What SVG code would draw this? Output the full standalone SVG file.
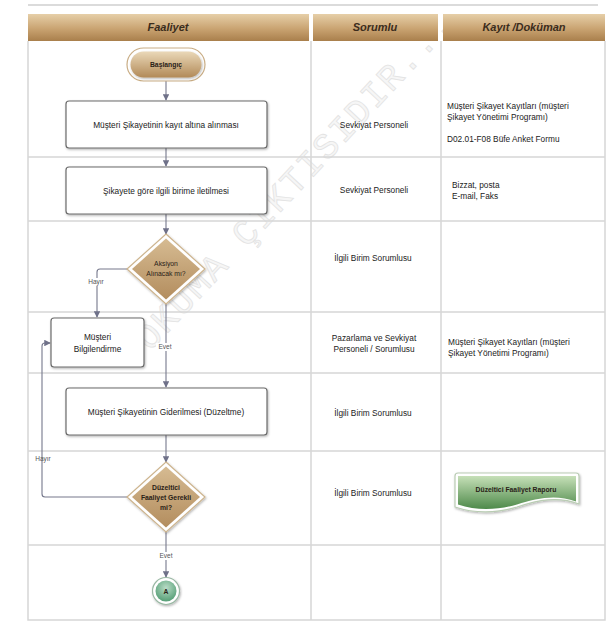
<svg xmlns="http://www.w3.org/2000/svg" width="613" height="623" viewBox="0 0 613 623">
<defs>
<linearGradient id="hdr" x1="0" y1="0" x2="0" y2="1">
<stop offset="0" stop-color="#e6cfa8"/><stop offset="0.55" stop-color="#c9a371"/><stop offset="1" stop-color="#a97f4c"/>
</linearGradient>
<linearGradient id="tan" x1="0" y1="0" x2="0" y2="1">
<stop offset="0" stop-color="#ead8b8"/><stop offset="1" stop-color="#b28a58"/>
</linearGradient>
<linearGradient id="dia" x1="0" y1="0" x2="0" y2="1">
<stop offset="0" stop-color="#d6bb92"/><stop offset="1" stop-color="#b38d5e"/>
</linearGradient>
<linearGradient id="grn" x1="0" y1="0" x2="0" y2="1">
<stop offset="0" stop-color="#c6e0b8"/><stop offset="1" stop-color="#4e8a4a"/>
</linearGradient>
<radialGradient id="grc" cx="0.5" cy="0.35" r="0.7">
<stop offset="0" stop-color="#b9dcc6"/><stop offset="1" stop-color="#4e9a70"/>
</radialGradient>
<marker id="arr" viewBox="0 0 8 8" refX="7" refY="4" markerWidth="6" markerHeight="6" orient="auto">
<path d="M0,0 L8,4 L0,8 Z" fill="#6f7189"/>
</marker>
<filter id="sh" x="-10%" y="-10%" width="130%" height="140%">
<feDropShadow dx="0.8" dy="1.2" stdDeviation="0.8" flood-color="#000" flood-opacity="0.3"/>
</filter>
</defs>
<style>
.grid{stroke:#d6d6d6;stroke-width:1.5;fill:none}
.hd{font-family:"Liberation Sans",Arial,sans-serif;font-style:italic;font-weight:bold;font-size:11px;fill:#3b2c1c;text-anchor:middle}
.t{font-family:"Liberation Sans",Arial,sans-serif;font-size:8.3px;fill:#222}
.c{text-anchor:middle}
.box{fill:#fff;stroke:#6b6b6b;stroke-width:1.2}
.conn{stroke:#76788c;stroke-width:1.1;fill:none}
.lbl{font-family:"Liberation Sans",Arial,sans-serif;font-size:6.5px;fill:#555;text-anchor:middle}
.sm{font-family:"Liberation Sans",Arial,sans-serif;font-size:6.8px;fill:#2a2218;text-anchor:middle;font-weight:bold}
.nw{font-weight:normal}
.wm{font-family:"Liberation Mono","Courier New",monospace;font-size:36px;fill:#f6f6f6;stroke:#e3e3e3;stroke-width:0.8}
</style>
<rect width="613" height="623" fill="#fff"/>

<g id="watermark">
<text class="wm" x="0" y="0" transform="translate(150,352) rotate(-47)" letter-spacing="2">OKUMA ÇIKTISIDIR...</text>
</g>

<g id="table">
<line x1="28" y1="5" x2="598" y2="5" stroke="#cfcfcf" stroke-width="1.5"/>
<rect x="28" y="14" width="281" height="27" fill="url(#hdr)"/>
<rect x="313" y="14" width="125" height="27" fill="url(#hdr)"/>
<rect x="443" y="14" width="162" height="27" fill="url(#hdr)"/>
<text class="hd" x="168" y="31">Faaliyet</text>
<text class="hd" x="375" y="31">Sorumlu</text>
<text class="hd" x="524" y="31">Kayıt /Doküman</text>
<path class="grid" d="M28,41 V620 H605 V41 M311,41 V620 M441,41 V620"/>
<path class="grid" d="M28,157 H605 M28,221 H605 M28,312 H605 M28,373 H605 M28,451 H605 M28,545 H605"/>
</g>

<g id="connectors">
<line class="conn" x1="166" y1="81" x2="166" y2="100" marker-end="url(#arr)"/>
<line class="conn" x1="166" y1="148" x2="166" y2="166" marker-end="url(#arr)"/>
<line class="conn" x1="166" y1="214" x2="166" y2="234" marker-end="url(#arr)"/>
<line class="conn" x1="166" y1="303" x2="166" y2="387" marker-end="url(#arr)"/>
<path class="conn" d="M129,269 H100 Q97,269 97,272 V317" marker-end="url(#arr)"/>
<line class="conn" x1="166" y1="435" x2="166" y2="462" marker-end="url(#arr)"/>
<path class="conn" d="M129,497 H45 Q42,497 42,494 V346 Q42,343 45,343 H50" marker-end="url(#arr)"/>
<line class="conn" x1="166" y1="531" x2="166" y2="577" marker-end="url(#arr)"/>
<rect x="87" y="278" width="18" height="8" fill="#fff"/>
<text class="lbl" x="96" y="284">Hayır</text>
<rect x="156" y="343" width="18" height="8" fill="#fff"/>
<text class="lbl" x="165" y="349">Evet</text>
<text class="lbl" x="43" y="461">Hayır</text>
<rect x="157" y="552" width="18" height="8" fill="#fff"/>
<text class="lbl" x="166" y="558">Evet</text>
</g>

<g id="start">
<rect x="127" y="48" width="78" height="33" rx="16.5" fill="#fff" stroke="#c9ad85" stroke-width="1.2"/>
<rect x="130.5" y="51.5" width="71" height="26" rx="13" fill="url(#tan)" filter="url(#sh)"/>
<text class="sm" x="166" y="67">Başlangıç</text>
</g>

<g id="n1">
<rect class="box" x="66" y="101" width="201" height="47" rx="3" filter="url(#sh)"/>
<text class="t c" x="166" y="128">Müşteri Şikayetinin kayıt altına alınması</text>
</g>
<g id="n2">
<rect class="box" x="66" y="167" width="201" height="47" rx="3" filter="url(#sh)"/>
<text class="t c" x="166" y="194">Şikayete göre ilgili birime iletilmesi</text>
</g>
<g id="d1">
<polygon points="166,234 205,269 166,304 127,269" fill="#fff" stroke="#cdb48e" stroke-width="1.2" filter="url(#sh)"/>
<polygon points="166,238.5 200,269 166,299.5 132,269" fill="url(#dia)"/>
<text class="sm nw" x="166" y="266">Aksiyon</text>
<text class="sm nw" x="166" y="276">Alınacak mı?</text>
</g>
<g id="n3">
<rect class="box" x="51" y="318" width="93" height="49" rx="3" filter="url(#sh)"/>
<text class="t c" x="97.5" y="340" font-size="9">Müşteri</text>
<text class="t c" x="97.5" y="352" font-size="9">Bilgilendirme</text>
</g>
<g id="n4">
<rect class="box" x="66" y="388" width="201" height="47" rx="3" filter="url(#sh)"/>
<text class="t c" x="166" y="415" font-size="8.8">Müşteri Şikayetinin Giderilmesi (Düzeltme)</text>
</g>
<g id="d2">
<polygon points="166,462 205,497 166,532 127,497" fill="#fff" stroke="#cdb48e" stroke-width="1.2" filter="url(#sh)"/>
<polygon points="166,466.5 200,497 166,527.5 132,497" fill="url(#dia)"/>
<text class="sm" x="166" y="490">Düzeltici</text>
<text class="sm" x="166" y="500">Faaliyet Gerekli</text>
<text class="sm" x="166" y="510">mi?</text>
</g>
<g id="end">
<circle cx="166" cy="591" r="13.5" fill="#fff" stroke="#9ab8a4" stroke-width="1.2" filter="url(#sh)"/>
<circle cx="166" cy="591" r="10.5" fill="url(#grc)"/>
<text class="sm" x="166" y="594" font-size="8">A</text>
</g>

<g id="doc">
<path d="M455,476 Q455,473 458,473 L576,473 Q579,473 579,476 L579,504 C558,496 538,500 517,507 C497,513 476,514 455,507 Z" fill="#fff" stroke="#b9ccb3" stroke-width="1.2" filter="url(#sh)"/>
<path d="M458,476 L576,476 L576,501.5 C556,494 537,498 517,504.5 C498,510 477,511 458,504.5 Z" fill="url(#grn)"/>
<text class="sm" x="516" y="492" font-size="7.2">Düzeltici Faaliyet Raporu</text>
</g>

<g id="resp">
<text class="t c" x="374" y="128">Sevkiyat Personeli</text>
<text class="t c" x="374" y="193">Sevkiyat Personeli</text>
<text class="t c" x="373" y="261">İlgili Birim Sorumlusu</text>
<text class="t c" x="374" y="341">Pazarlama ve Sevkiyat</text>
<text class="t c" x="374" y="352">Personeli / Sorumlusu</text>
<text class="t c" x="373" y="416">İlgili Birim Sorumlusu</text>
<text class="t c" x="373" y="496">İlgili Birim Sorumlusu</text>
</g>
<g id="records">
<text class="t" x="447" y="109">Müşteri Şikayet Kayıtları (müşteri</text>
<text class="t" x="447" y="120">Şikayet Yönetimi Programı)</text>
<text class="t" x="447" y="142">D02.01-F08 Büfe Anket Formu</text>
<text class="t" x="452" y="188">Bizzat, posta</text>
<text class="t" x="452" y="199">E-mail, Faks</text>
<text class="t" x="448" y="345">Müşteri Şikayet Kayıtları (müşteri</text>
<text class="t" x="448" y="356">Şikayet Yönetimi Programı)</text>
</g>
</svg>
